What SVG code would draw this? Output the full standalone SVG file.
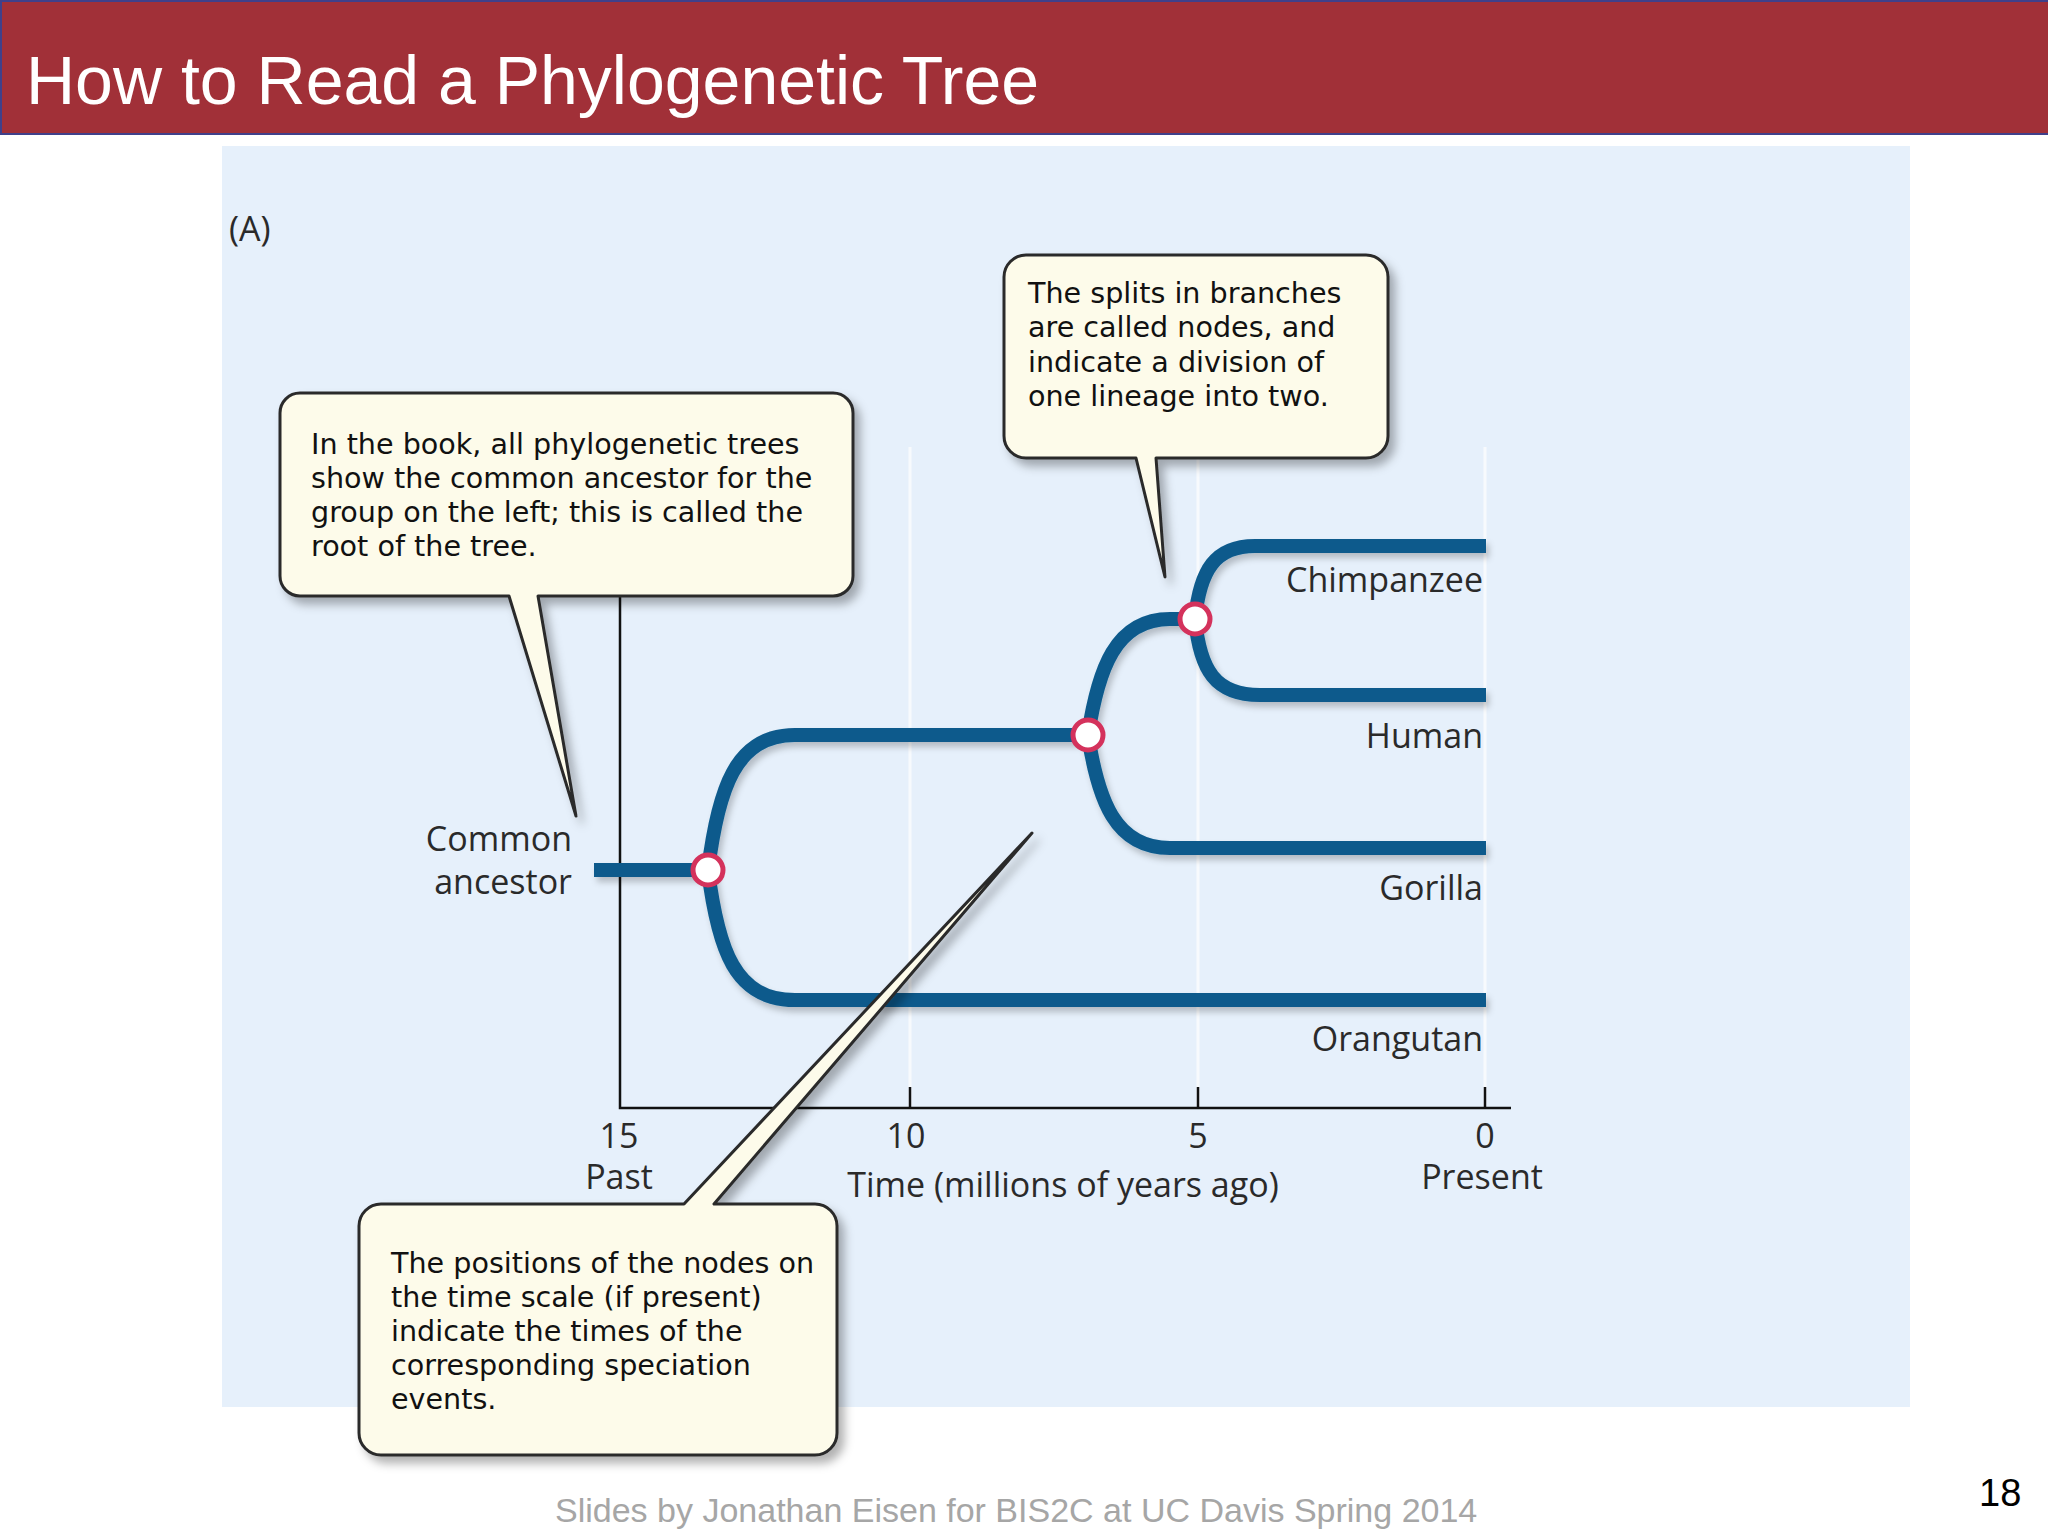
<svg xmlns="http://www.w3.org/2000/svg" width="2048" height="1536" viewBox="0 0 2048 1536">
<defs>
<style>
.callout{fill:#FDFBEA;stroke:#2a2a2a;stroke-width:3;stroke-linejoin:round;filter:url(#boxShadow)}
.ctext{font-family:"DejaVu Sans",Verdana,sans-serif;font-size:28.6px;fill:#111}
.lbl{font-family:"Open Sans","Noto Sans",sans-serif;font-size:34px;fill:#2a2a2a}
.branch{fill:none;stroke:#0B5A8C;stroke-width:14;stroke-linecap:butt}
.node{fill:#fff;stroke:#D4325C;stroke-width:5}
.axis{fill:none;stroke:#111;stroke-width:2.5}
.grid{stroke:#fff;stroke-width:3;opacity:0.7}
</style>
<filter id="boxShadow" x="-10%" y="-10%" width="125%" height="130%">
<feDropShadow dx="6" dy="7" stdDeviation="5" flood-color="#000" flood-opacity="0.3"/>
</filter>
<filter id="branchShadow" x="-10%" y="-10%" width="120%" height="130%">
<feDropShadow dx="3" dy="5" stdDeviation="3" flood-color="#000" flood-opacity="0.22"/>
</filter>
</defs>
<rect width="2048" height="1536" fill="#fff"/>
<g id="title">
<rect x="1" y="1" width="2052" height="133" fill="#A13038" stroke="#40408A" stroke-width="2"/>
<text x="26" y="104" font-family="'Liberation Sans',Arial,sans-serif" font-size="68" fill="#fff">How to Read a Phylogenetic Tree</text>
</g>
<g id="panel">
<rect x="222" y="146" width="1688" height="1261" fill="#E6F0FB"/>
<text x="229" y="241" class="lbl" font-size="35">(A)</text>
</g>
<g id="grid">
<line class="grid" x1="910" y1="447" x2="910" y2="1106"/>
<line class="grid" x1="1198" y1="447" x2="1198" y2="1106"/>
<line class="grid" x1="1485" y1="447" x2="1485" y2="1106"/>
</g>
<g id="axis">
<path class="axis" d="M620 596 V1108 H1511"/>
<path class="axis" d="M910 1108 V1087 M1198 1108 V1087 M1485 1108 V1087"/>
<text class="lbl" x="619" y="1148" text-anchor="middle">15</text>
<text class="lbl" x="619" y="1189" text-anchor="middle">Past</text>
<text class="lbl" x="906" y="1148" text-anchor="middle">10</text>
<text class="lbl" x="1198" y="1148" text-anchor="middle">5</text>
<text class="lbl" x="1485" y="1148" text-anchor="middle">0</text>
<text class="lbl" x="1482" y="1189" text-anchor="middle">Present</text>
<text class="lbl" x="1063" y="1197" text-anchor="middle">Time (millions of years ago)</text>
</g>
<g id="connectors" filter="url(#branchShadow)">
<path class="branch" d="M594 870 H708"/>
<path class="branch" d="M708 870 C718 790 735 735 795 735 H1088"/>
<path class="branch" d="M708 870 C718 950 735 1000 795 1000 H1486"/>
<path class="branch" d="M1088 735 C1098 670 1115 619 1170 619 H1195"/>
<path class="branch" d="M1088 735 C1098 800 1115 848 1170 848 H1486"/>
<path class="branch" d="M1195 619 C1200 570 1215 546 1255 546 H1486"/>
<path class="branch" d="M1195 619 C1200 670 1215 695 1260 695 H1486"/>
</g>
<g id="node-root"><circle class="node" cx="708" cy="870" r="15"/></g>
<g id="node-2"><circle class="node" cx="1088" cy="735" r="15"/></g>
<g id="node-3"><circle class="node" cx="1195" cy="619" r="15"/></g>
<g id="labels">
<text class="lbl" x="1483" y="592" text-anchor="end">Chimpanzee</text>
<text class="lbl" x="1483" y="748" text-anchor="end">Human</text>
<text class="lbl" x="1483" y="900" text-anchor="end">Gorilla</text>
<text class="lbl" x="1483" y="1051" text-anchor="end">Orangutan</text>
<text class="lbl" x="572" y="851" text-anchor="end">Common</text>
<text class="lbl" x="572" y="894" text-anchor="end">ancestor</text>
</g>
<g id="callout-root">
<path class="callout" d="M301 393 H833 A20 20 0 0 1 853 413 V576 A20 20 0 0 1 833 596 H538 L576 816 L509 596 H300 A20 20 0 0 1 280 576 V413 A20 20 0 0 1 300 393 Z"/>
<text class="ctext" x="311" y="454">In the book, all phylogenetic trees</text>
<text class="ctext" x="311" y="488">show the common ancestor for the</text>
<text class="ctext" x="311" y="522">group on the left; this is called the</text>
<text class="ctext" x="311" y="556">root of the tree.</text>
</g>
<g id="callout-nodes">
<path class="callout" d="M1026 255 H1366 A22 22 0 0 1 1388 277 V436 A22 22 0 0 1 1366 458 H1156 L1165 577 L1136 458 H1026 A22 22 0 0 1 1004 436 V277 A22 22 0 0 1 1026 255 Z"/>
<text class="ctext" x="1028" y="303">The splits in branches</text>
<text class="ctext" x="1028" y="337">are called nodes, and</text>
<text class="ctext" x="1028" y="372">indicate a division of</text>
<text class="ctext" x="1028" y="406">one lineage into two.</text>
</g>
<g id="callout-time">
<path class="callout" d="M381 1204 H684 L1032 833 L714 1204 H815 A22 22 0 0 1 837 1226 V1433 A22 22 0 0 1 815 1455 H381 A22 22 0 0 1 359 1433 V1226 A22 22 0 0 1 381 1204 Z"/>
<text class="ctext" x="391" y="1273">The positions of the nodes on</text>
<text class="ctext" x="391" y="1307">the time scale (if present)</text>
<text class="ctext" x="391" y="1341">indicate the times of the</text>
<text class="ctext" x="391" y="1375">corresponding speciation</text>
<text class="ctext" x="391" y="1409">events.</text>
</g>
<g id="footer">
<text x="555" y="1522" font-family="'Liberation Sans',Arial,sans-serif" font-size="34" fill="#A6A6A6">Slides by Jonathan Eisen for BIS2C at UC Davis Spring 2014</text>
<text x="1979" y="1506" font-family="'Liberation Sans',Arial,sans-serif" font-size="38" fill="#000">18</text>
</g>
</svg>
